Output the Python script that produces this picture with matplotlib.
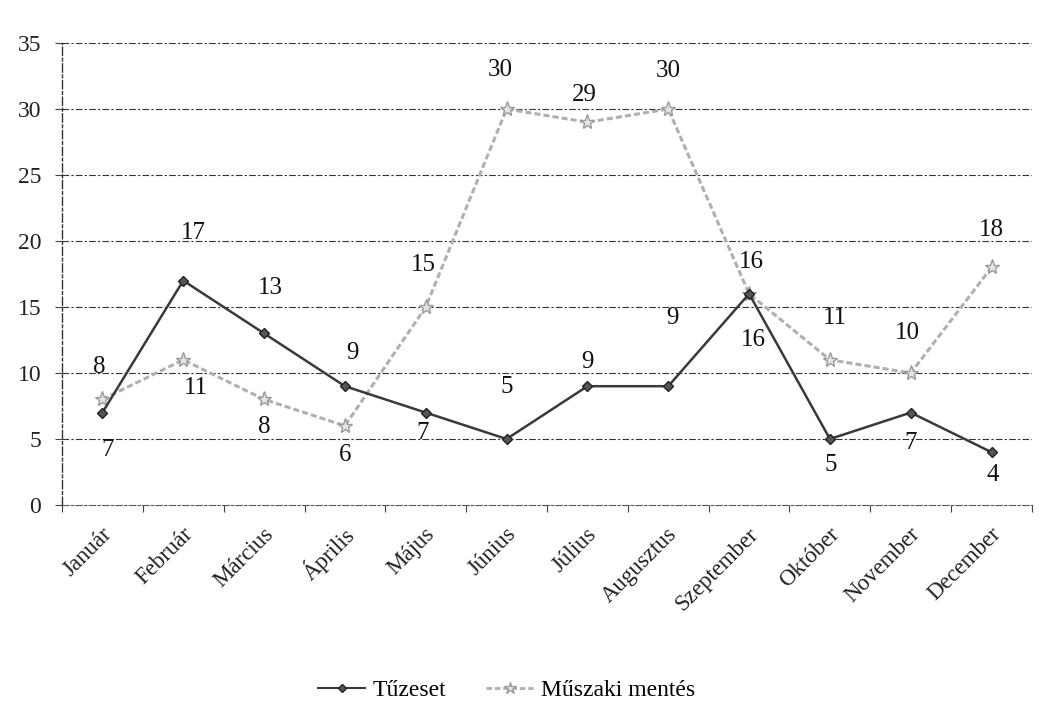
import matplotlib
matplotlib.use("Agg")
import matplotlib.pyplot as plt
from matplotlib.lines import Line2D

months = ["Január", "Február", "Március", "Április", "Május", "Június",
          "Július", "Augusztus", "Szeptember", "Október", "November", "December"]
tuzeset = [7, 17, 13, 9, 7, 5, 9, 9, 16, 5, 7, 4]
muszaki = [8, 11, 8, 6, 15, 30, 29, 30, 16, 11, 10, 18]
series_names = ["Tűzeset", "Műszaki mentés"]
yticks = [0, 5, 10, 15, 20, 25, 30, 35]

# label offsets in pixels (dx, dy; dy positive = downward)
tuz_off = [(5, 37), (10, -48), (6, -45), (8, -33), (-3, 20), (0, -52),
           (0, -24), (4, -68), (4, 46), (1, 26), (0, 30), (1, 23)]
mus_off = [(-3, -32), (13, 28), (0, 28), (0, 29), (-2, -42), (-6, -39),
           (-3, -27), (0, -38), (2, -32), (5, -42), (-3, -40), (0, -37)]

plt.rcParams['font.family'] = ['Liberation Serif', 'DejaVu Serif']

fig = plt.figure(figsize=(10.4, 7.13), dpi=100)
ax = fig.add_axes([62 / 1040, 1 - 505 / 713, (1032 - 62) / 1040, (505 - 43) / 713])

x = list(range(len(months)))
dark = "#3a3a3a"
light = "#b0b0b0"

ax.plot(x, tuzeset, color=dark, lw=1.8, marker='D', ms=5.5,
        mfc="#555555", mec="#222222", zorder=4)
ax.plot(x, muszaki, color=light, lw=2.2, linestyle=(0, (2, 1)), marker='*', ms=11,
        mfc="#e4e4e4", mec="#9a9a9a", mew=1.0, zorder=3)

for i, v in enumerate(tuzeset):
    dx, dy = tuz_off[i]
    ax.annotate(str(v), (i, v), xytext=(dx, -dy), textcoords='offset pixels',
                ha='center', va='center', fontsize=18, color='#111111', zorder=6)
for i, v in enumerate(muszaki):
    dx, dy = mus_off[i]
    ax.annotate(str(v), (i, v), xytext=(dx, -dy), textcoords='offset pixels',
                ha='center', va='center', fontsize=18, color='#111111', zorder=6)

ax.set_xlim(-0.5, len(months) - 0.5)
ax.set_ylim(0, 35)
ax.set_yticks(yticks)
ax.set_yticklabels([str(t) for t in yticks], fontsize=17, color='#222222')
ax.tick_params(axis='y', length=5, width=0.8, color='#444444', pad=10)

ax.set_xticks([i + 0.5 for i in range(-1, len(months))], minor=False)
ax.set_xticklabels([])
ax.tick_params(axis='x', length=5, width=0.8, color='#444444')
for i, m in enumerate(months):
    ax.annotate(m, (i, 0), xycoords=('data', 'data'), xytext=(6, -26),
                textcoords='offset pixels', rotation=45, ha='right', va='center',
                rotation_mode='anchor', fontsize=16.5, color='#222222')

for t in yticks[1:]:
    ax.axhline(t, color='#333333', lw=0.8, linestyle=(0, (6, 2, 2, 2)), zorder=1)

for s in ['top', 'right']:
    ax.spines[s].set_visible(False)
ax.spines['left'].set_linestyle((0, (6, 2, 2, 2)))
ax.spines['left'].set_color('#333333')
ax.spines['left'].set_linewidth(1.0)
ax.spines['bottom'].set_linestyle((0, (6, 2, 2, 2)))
ax.spines['bottom'].set_color('#555555')
ax.spines['bottom'].set_linewidth(0.8)

handles = [Line2D([0], [0], color=dark, lw=1.5, marker='D', ms=4, mfc="#555555", mec="#222222"),
           Line2D([0], [0], color=light, lw=2, linestyle=(0, (2, 1)), marker='*', ms=9,
                  mfc="#e4e4e4", mec="#9a9a9a")]
fig.legend(handles, series_names, loc='center', bbox_to_anchor=(0.487, 1 - 690 / 713),
           ncol=2, frameon=False, fontsize=17, handlelength=2.0, columnspacing=1.7,
           handletextpad=0.3)

fig.savefig("out.png", dpi=100, facecolor='white')
